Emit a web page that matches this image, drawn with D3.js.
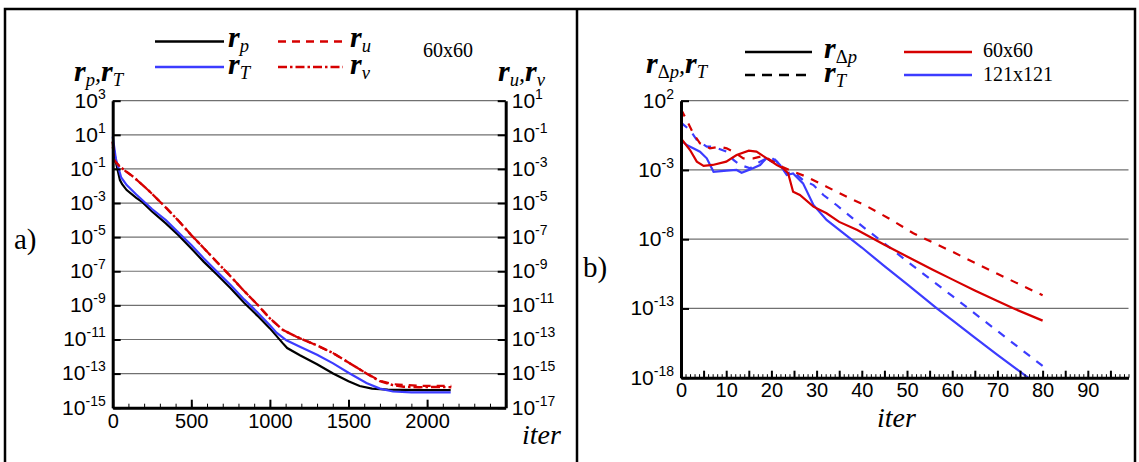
<!DOCTYPE html>
<html><head><meta charset="utf-8">
<script src="https://cdn.jsdelivr.net/npm/d3@7"></script>
<style>body{margin:0;background:#fff}svg{display:block}</style>
</head><body>
<script>
// ---------- DATA (log10 of residuals) ----------
// Panel a: iteration, log10 value. r_p and r_T on left axis; r_u, r_v on right axis
const aIterTicks = [0, 500, 1000, 1500, 2000];
const aLeftTickExp = [3, 1, -1, -3, -5, -7, -9, -11, -13, -15];
const aRightTickExp = [1, -1, -3, -5, -7, -9, -11, -13, -15, -17];
const rpA = [[0,0.6],[20,-0.6],[46,-1.65],[60,-1.9],[89,-2.24],[150,-2.7],[189,-2.95],[250,-3.5],[338,-4.19],[420,-4.9],[500,-5.66],[580,-6.45],[666,-7.22],[750,-8.0],[836,-8.85],[920,-9.6],[1000,-10.35],[1080,-11.2],[1110,-11.5],[1191,-11.92],[1300,-12.45],[1402,-12.99],[1500,-13.45],[1571,-13.73],[1650,-13.88],[1750,-13.94],[1850,-13.96],[2000,-13.97],[2150,-13.97]];
const rTA = [[0,0.9],[20,-0.4],[54,-1.5],[89,-1.95],[150,-2.5],[250,-3.35],[338,-4.0],[420,-4.75],[500,-5.46],[580,-6.25],[666,-7.05],[750,-7.8],[836,-8.65],[920,-9.4],[1000,-10.16],[1042,-10.6],[1105,-11.05],[1191,-11.43],[1300,-11.9],[1402,-12.4],[1500,-12.95],[1614,-13.55],[1700,-13.88],[1783,-14.05],[1900,-14.1],[2150,-14.1]];
const ruA = [[0,-1.7],[15,-2.55],[46,-2.9],[131,-3.46],[237,-4.34],[343,-5.31],[420,-6.05],[500,-6.88],[580,-7.65],[661,-8.44],[750,-9.3],[830,-10.1],[920,-10.95],[1000,-11.76],[1084,-12.45],[1169,-12.84],[1300,-13.35],[1402,-13.8],[1500,-14.35],[1614,-14.99],[1700,-15.42],[1783,-15.62],[1950,-15.72],[2154,-15.72]];
const rvA = [[0,-1.4],[10,-2.5],[20,-2.6],[46,-2.87],[131,-3.46],[237,-4.34],[343,-5.31],[420,-6.05],[500,-6.88],[580,-7.65],[661,-8.44],[750,-9.3],[830,-10.1],[920,-10.95],[1000,-11.76],[1084,-12.45],[1169,-12.84],[1300,-13.35],[1402,-13.8],[1500,-14.35],[1614,-14.99],[1700,-15.45],[1783,-15.68],[1850,-15.77],[1950,-15.8],[2050,-15.78],[2154,-15.8]];

// Panel b
const bIterTicks = [0, 10, 20, 30, 40, 50, 60, 70, 80, 90];
const bTickExp = [2, -3, -8, -13, -18];
const rdp60 = [[0,-0.72],[2,-1.56],[3.5,-2.4],[5,-2.71],[7,-2.64],[10,-2.4],[12.3,-1.92],[15,-1.61],[16.7,-1.68],[19,-2.16],[21.2,-2.64],[22.6,-2.88],[23.7,-3.24],[24.1,-3.73],[24.8,-4.57],[26.3,-4.81],[29.3,-5.65],[32.2,-6.13],[35,-6.75],[39,-7.34],[45,-8.4],[50,-9.25],[55.8,-10.22],[60,-10.9],[65,-11.7],[70,-12.47],[73.5,-12.99],[80,-13.88]];
const rT60 = [[0,1.38],[1.25,0.6],[2.7,-0.35],[4.2,-1.08],[6.4,-1.44],[8.6,-1.32],[10.1,-1.44],[11.6,-1.68],[13.8,-2.16],[16,-2.16],[18.2,-1.99],[20.4,-2.4],[22.6,-2.81],[24.8,-3.12],[27.8,-3.49],[32.2,-4.21],[37.4,-5.05],[41,-5.6],[46,-6.5],[51.4,-7.57],[60,-8.9],[70,-10.5],[80,-12.05]];
const rdp121 = [[0,-0.84],[1.25,-1.2],[2.7,-1.44],[4.2,-1.68],[5.7,-2.16],[7.2,-3.13],[10.1,-3.05],[12.3,-3.0],[13.4,-3.2],[15.3,-2.96],[17.5,-2.64],[18.9,-2.16],[20.1,-2.4],[20.8,-2.25],[21.9,-2.64],[23.4,-3.37],[24.8,-3.25],[27,-3.97],[29.3,-5.53],[32.2,-6.61],[35.5,-7.45],[40,-8.6],[45,-9.95],[50,-11.25],[56.6,-12.99],[60,-13.85],[65,-15.1],[70,-16.35],[76.5,-17.93],[78,-18.3]];
const rT121 = [[0,0.41],[2,-0.12],[3.5,-0.84],[5.7,-1.32],[7.1,-1.32],[10.1,-1.68],[11.6,-2.28],[13.1,-2.64],[15.3,-2.88],[17.5,-2.4],[19.7,-2.04],[21.2,-2.4],[23.4,-3.24],[24.8,-3.13],[27,-3.73],[29.3,-4.09],[31.5,-4.81],[34.4,-5.53],[38,-6.5],[41,-7.3],[44,-8.05],[50,-9.59],[60,-12.1],[70,-14.63],[80,-17.15]];

// ---------- DRAWING ----------
const W = 1139, H = 462;
const RED = "#d60000", BLUE = "#3c3cff";
const SANS = "'Liberation Sans', Arial, sans-serif";
const SERIF = "'Liberation Serif', 'Times New Roman', serif";
const svg = d3.select("body").append("svg").attr("width", W).attr("height", H);

// frame
svg.append("rect").attr("x", 5).attr("y", 9).attr("width", 1130).attr("height", 470)
  .attr("fill", "none").attr("stroke", "#000").attr("stroke-width", 2.5);
svg.append("line").attr("x1", 577).attr("x2", 577).attr("y1", 9).attr("y2", H)
  .attr("stroke", "#000").attr("stroke-width", 2.5);

function pow10(e) { return Math.pow(10, e); }

function supLabels(sel, fs, supFs) {
  sel.selectAll(".tick text").each(function (d) {
    const t = d3.select(this);
    const e = Math.round(Math.log10(d));
    t.text(null);
    t.append("tspan").text("10").attr("font-size", fs);
    t.append("tspan").text(String(e)).attr("font-size", supFs).attr("dy", -9);
  });
}

// rich text helper
function rich(x, y, parts, size) {
  size = size || 30;
  const t = svg.append("text").attr("x", x).attr("y", y).attr("font-family", SERIF);
  let lowered = false;
  parts.forEach(([s, k]) => {
    const ts = t.append("tspan").text(s);
    if (k === "r") {
      ts.attr("font-size", size).attr("font-style", "italic").attr("font-weight", "bold");
      if (lowered) { ts.attr("dy", -5); lowered = false; }
    } else if (k === "c") {
      ts.attr("font-size", size * 0.8).attr("font-style", "italic");
      if (lowered) { ts.attr("dy", -5); lowered = false; }
    } else {
      ts.attr("font-size", size * 0.62).attr("font-style", k === "up" ? "normal" : "italic");
      if (!lowered) { ts.attr("dy", 5); lowered = true; }
    }
  });
  return t;
}

// ===== Panel a =====
const xA = d3.scaleLinear().domain([0, 2500]).range([112.7, 505.7]);
const yA = d3.scaleLog().domain([1e-15, 1e3]).range([407.7, 100.7]);
const yAR = d3.scaleLog().domain([1e-17, 1e1]).range([407.7, 100.7]);

const gA = svg.append("g");
gA.selectAll("line.grid").data(aLeftTickExp.filter(e => e > -15)).join("line")
  .attr("x1", xA(0)).attr("x2", xA(2500))
  .attr("y1", d => yA(pow10(d))).attr("y2", d => yA(pow10(d)))
  .attr("stroke", "#707070").attr("stroke-width", 1.2);

const lineA = d3.line().x(d => xA(d[0])).y(d => yA(pow10(d[1])));
const lineAR = d3.line().x(d => xA(d[0])).y(d => yAR(pow10(d[1])));
gA.append("path").attr("d", lineAR(ruA)).attr("fill", "none").attr("stroke", RED).attr("stroke-width", 2.2).attr("stroke-dasharray", "8,6");
gA.append("path").attr("d", lineA(rpA)).attr("fill", "none").attr("stroke", "#000").attr("stroke-width", 2.2);
gA.append("path").attr("d", lineA(rTA)).attr("fill", "none").attr("stroke", BLUE).attr("stroke-width", 2.2);
gA.append("path").attr("d", lineAR(rvA)).attr("fill", "none").attr("stroke", RED).attr("stroke-width", 2.4).attr("stroke-dasharray", "9,3,2.5,3");

// axes a
const axAminor = gA.append("g").attr("transform", "translate(0,407.7)")
  .call(d3.axisBottom(xA).tickValues(d3.range(0, 2501, 100)).tickSize(-4).tickSizeOuter(0).tickFormat(""));
axAminor.select(".domain").remove();
axAminor.selectAll(".tick line").attr("stroke-width", 1);
const axAx = gA.append("g").attr("transform", "translate(0,407.7)")
  .call(d3.axisBottom(xA).tickValues([0, 500, 1000, 1500, 2000, 2500]).tickSize(-8).tickSizeOuter(0).tickPadding(6)
    .tickFormat(d => aIterTicks.includes(d) ? String(d) : ""));
const axAy = gA.append("g").attr("transform", "translate(112.7,0)")
  .call(d3.axisLeft(yA).tickValues(aLeftTickExp.map(pow10)).tickSize(-8).tickSizeOuter(0).tickPadding(7));
const axAyR = gA.append("g").attr("transform", "translate(505.7,0)")
  .call(d3.axisRight(yAR).tickValues(aRightTickExp.map(pow10)).tickSize(-8).tickSizeOuter(0).tickPadding(6));
supLabels(axAy, 21, 14);
supLabels(axAyR, 21, 14);

// ===== Panel b =====
const xB = d3.scaleLinear().domain([0, 99]).range([681, 1128.5]);
const yB = d3.scaleLog().domain([1e-18, 1e2]).range([377.7, 100.7]);
const gB = svg.append("g");
gB.selectAll("line.grid").data(bTickExp.filter(e => e > -18)).join("line")
  .attr("x1", xB(0)).attr("x2", xB(99))
  .attr("y1", d => yB(pow10(d))).attr("y2", d => yB(pow10(d)))
  .attr("stroke", "#707070").attr("stroke-width", 1.2);
svg.append("clipPath").attr("id", "clipB").append("rect")
  .attr("x", 681).attr("y", 100).attr("width", 448).attr("height", 277.7);
const lineB = d3.line().x(d => xB(d[0])).y(d => yB(pow10(d[1])));
const gBL = gB.append("g").attr("clip-path", "url(#clipB)");
gBL.append("path").attr("d", lineB(rT121)).attr("fill", "none").attr("stroke", BLUE).attr("stroke-width", 2.2).attr("stroke-dasharray", "8,8");
gBL.append("path").attr("d", lineB(rdp121)).attr("fill", "none").attr("stroke", BLUE).attr("stroke-width", 2.2);
gBL.append("path").attr("d", lineB(rT60)).attr("fill", "none").attr("stroke", RED).attr("stroke-width", 2.2).attr("stroke-dasharray", "8,8");
gBL.append("path").attr("d", lineB(rdp60)).attr("fill", "none").attr("stroke", RED).attr("stroke-width", 2.2);

const axBminor = gB.append("g").attr("transform", "translate(0,377.7)")
  .call(d3.axisBottom(xB).tickValues(d3.range(0, 100, 1)).tickSize(-3.5).tickSizeOuter(0).tickFormat(""));
axBminor.select(".domain").remove();
axBminor.selectAll(".tick line").attr("stroke-width", 1);
const axBx = gB.append("g").attr("transform", "translate(0,377.7)")
  .call(d3.axisBottom(xB).tickValues(d3.range(0, 100, 5)).tickSize(-7).tickSizeOuter(0).tickPadding(5)
    .tickFormat(d => bIterTicks.includes(d) ? String(d) : ""));
const axBy = gB.append("g").attr("transform", "translate(681,0)")
  .call(d3.axisLeft(yB).tickValues(bTickExp.map(pow10)).tickSize(-8).tickSizeOuter(0).tickPadding(7));
supLabels(axBy, 21, 14);

// axis styling
[axAx, axAy, axAyR, axBx, axBy].forEach(a => {
  a.select(".domain").attr("stroke-width", 3).attr("stroke", "#000");
  a.selectAll(".tick line").attr("stroke-width", 2).attr("stroke", "#000");
});
[axAminor, axBminor].forEach(a => a.selectAll(".tick line").attr("stroke", "#000"));
[axAx, axAy, axAyR, axBx, axBy].forEach(a => a.attr("font-family", SANS).attr("font-size", 20));
axAx.selectAll(".tick text").attr("font-size", 20);
axBx.selectAll(".tick text").attr("font-size", 20);

// ===== texts =====
svg.append("text").attr("x", 14).attr("y", 249).attr("font-family", SERIF).attr("font-size", 29).text("a)");
svg.append("text").attr("x", 583).attr("y", 277).attr("font-family", SERIF).attr("font-size", 29).text("b)");
svg.append("text").attr("x", 522).attr("y", 444).attr("font-family", SERIF).attr("font-size", 28).attr("font-style", "italic").text("iter");
svg.append("text").attr("x", 877).attr("y", 427).attr("font-family", SERIF).attr("font-size", 28).attr("font-style", "italic").text("iter");

rich(74, 81, [["r", "r"], ["p", "sub"], [",", "c"], ["r", "r"], ["T", "sub"]]);
rich(498, 81, [["r", "r"], ["u", "sub"], [",", "c"], ["r", "r"], ["v", "sub"]]);
rich(646, 73, [["r", "r"], ["Δ", "up"], ["p", "sub"], [",", "c"], ["r", "r"], ["T", "sub"]]);

// legend a
const legA = [
  { x1: 155, x2: 224, y: 41.5, c: "#000", dash: null, lab: [["r", "r"], ["p", "sub"]], lx: 228, ly: 47 },
  { x1: 155, x2: 224, y: 67, c: BLUE, dash: null, lab: [["r", "r"], ["T", "sub"]], lx: 228, ly: 74 },
  { x1: 278, x2: 343, y: 41.5, c: RED, dash: "8,6", lab: [["r", "r"], ["u", "sub"]], lx: 350, ly: 47 },
  { x1: 278, x2: 343, y: 67, c: RED, dash: "9,3,2.5,3", lab: [["r", "r"], ["v", "sub"]], lx: 350, ly: 74 }
];
legA.forEach(l => {
  svg.append("line").attr("x1", l.x1).attr("x2", l.x2).attr("y1", l.y).attr("y2", l.y)
    .attr("stroke", l.c).attr("stroke-width", 2.5).attr("stroke-dasharray", l.dash);
  rich(l.lx, l.ly, l.lab);
});
svg.append("text").attr("x", 423).attr("y", 57).attr("font-family", SERIF).attr("font-size", 20).text("60x60");

// legend b
const legB = [
  { x1: 745, x2: 812, y: 52, c: "#000", dash: null },
  { x1: 745, x2: 812, y: 75, c: "#000", dash: "10,7" },
  { x1: 904, x2: 972, y: 52, c: RED, dash: null },
  { x1: 904, x2: 972, y: 75, c: BLUE, dash: null }
];
legB.forEach(l => {
  svg.append("line").attr("x1", l.x1).attr("x2", l.x2).attr("y1", l.y).attr("y2", l.y)
    .attr("stroke", l.c).attr("stroke-width", 2.5).attr("stroke-dasharray", l.dash);
});
rich(824, 58, [["r", "r"], ["Δ", "up"], ["p", "sub"]]);
rich(824, 82, [["r", "r"], ["T", "sub"]]);
svg.append("text").attr("x", 983).attr("y", 57).attr("font-family", SERIF).attr("font-size", 20).text("60x60");
svg.append("text").attr("x", 983).attr("y", 81).attr("font-family", SERIF).attr("font-size", 20).text("121x121");
</script>
</body></html>
